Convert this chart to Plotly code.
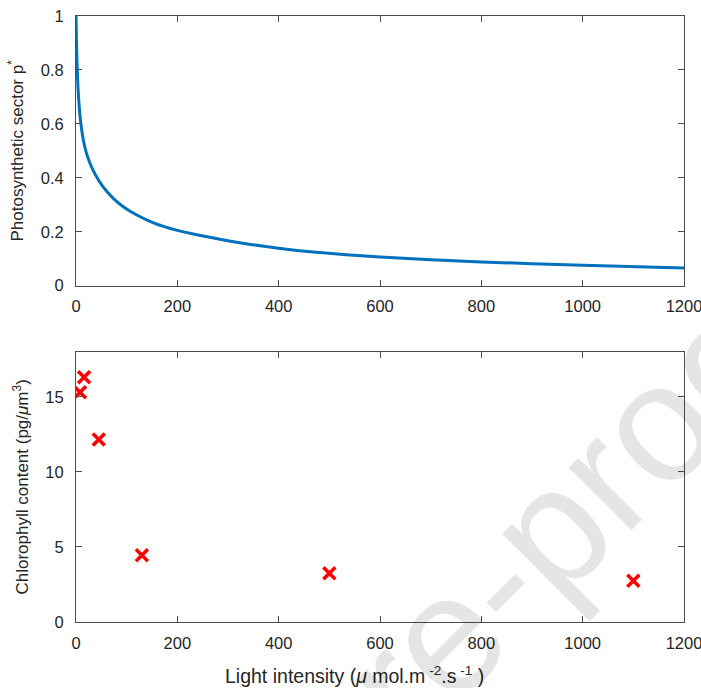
import plotly.graph_objects as go

# Top panel: photosynthetic sector p* vs light intensity
curve_x = [0, 1, 2.5, 5, 9, 14, 20, 28, 38, 52, 74, 94, 120, 153, 200, 251, 317, 400, 462, 600, 800, 1000, 1200]
curve_y = [1.0, 0.9, 0.8, 0.7, 0.61, 0.545, 0.495, 0.452, 0.412, 0.37, 0.323, 0.292, 0.262, 0.233, 0.205, 0.184, 0.161, 0.139, 0.126, 0.106, 0.088, 0.0755, 0.0655]

# Bottom panel: chlorophyll content measurements
chl_x = [8, 16, 45, 130, 500, 1100]
chl_y = [15.3, 16.3, 12.15, 4.45, 3.25, 2.75]

x_ticks = [0, 200, 400, 600, 800, 1000, 1200]
top_y_ticks = [0, 0.2, 0.4, 0.6, 0.8, 1]
top_y_labels = ["0", "0.2", "0.4", "0.6", "0.8", "1"]
bot_y_ticks = [0, 5, 10, 15]

FONT = "Liberation Sans, Arial, Helvetica, sans-serif"
AX = "#4d4d4d"
TXT = "#262626"

fig = go.Figure()
fig.add_trace(go.Scatter(x=curve_x, y=curve_y, mode="lines",
                         line=dict(color="#0072BD", width=3, shape="spline", smoothing=0.6),
                         xaxis="x", yaxis="y", showlegend=False))
fig.add_trace(go.Scatter(x=chl_x, y=chl_y, mode="markers",
                         marker=dict(symbol="x-thin", size=12, color="red",
                                     line=dict(color="red", width=3.5)),
                         xaxis="x2", yaxis="y2", showlegend=False))

common = dict(showline=True, linecolor=AX, linewidth=1, mirror="ticks",
              ticks="inside", ticklen=6, tickcolor=AX, tickwidth=1,
              showgrid=False, zeroline=False, ticklabeloverflow="allow",
              automargin=False,
              tickfont=dict(family=FONT, size=16.5, color=TXT))

fig.update_layout(
    width=701, height=688,
    margin=dict(l=76, r=17, t=16, b=66),
    paper_bgcolor="white", plot_bgcolor="white",
    font=dict(family=FONT, color=TXT),
    xaxis=dict(domain=[0, 1], range=[0, 1200], tickvals=x_ticks, anchor="y", **common,
               ticklabelstandoff=6),
    yaxis=dict(domain=[0.555, 1], range=[0, 1], tickvals=top_y_ticks, ticktext=top_y_labels,
               anchor="x", ticklabelstandoff=8,
               title=dict(text="Photosynthetic sector p<sup>*</sup>", font=dict(size=17, family=FONT, color=TXT), standoff=12),
               **common),
    xaxis2=dict(domain=[0, 1], range=[0, 1200], tickvals=x_ticks, anchor="y2", **common,
                ticklabelstandoff=6),
    yaxis2=dict(domain=[0, 0.446], range=[0, 18], tickvals=bot_y_ticks, anchor="x2",
                ticklabelstandoff=8,
                title=dict(text="Chlorophyll content (pg/<i>μ</i>m<sup>3</sup>)", font=dict(size=17, family=FONT, color=TXT), standoff=12),
                **common),
)

# x-axis label of the lower panel (placed as MATLAB did, slightly left of centre)
fig.add_annotation(text="Light intensity (<i>μ</i> mol.m<sup> -2</sup>.s<sup> -1</sup> )",
                   xref="paper", yref="paper", x=0.458, y=-0.088, showarrow=False,
                   xanchor="center", yanchor="middle",
                   font=dict(family=FONT, size=19.5, color=TXT))

# faint diagonal watermark
fig.add_annotation(text="Journal Pre-proof", xref="paper", yref="paper",
                   x=0.414, y=-0.2145, showarrow=False, textangle=-45,
                   font=dict(family=FONT, size=168, color="rgba(0,0,0,0.1)"),
                   xanchor="center", yanchor="middle")

fig.write_html("out.html")
